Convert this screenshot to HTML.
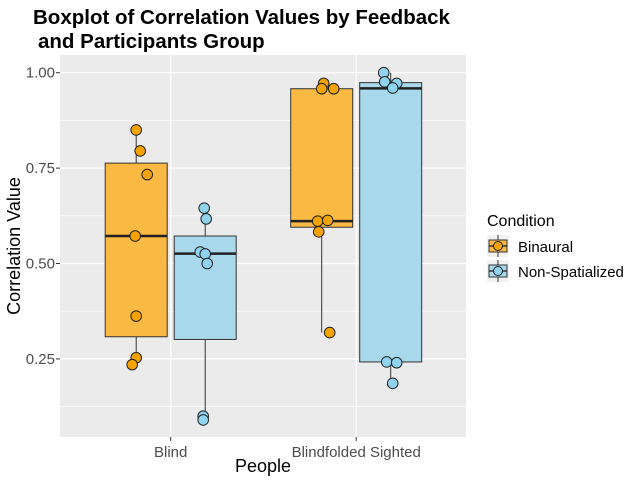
<!DOCTYPE html>
<html><head><meta charset="utf-8"><style>
body{margin:0;background:#fff}
svg{display:block;font-family:"Liberation Sans",Arial,sans-serif}
</style></head><body>
<svg id="chart" width="624" height="486">
<text x="33" y="24" font-size="20.5" font-weight="bold">Boxplot of Correlation Values by Feedback</text>
<text x="38" y="48" font-size="20.5" font-weight="bold">and Participants Group</text>
<rect x="60" y="55" width="406" height="382" fill="#ebebeb"/>
<g id="grid"></g>
<g id="boxes"></g>
<g id="pts"></g>
<g id="axes"></g>
<text x="0" y="0" transform="translate(20,246) rotate(-90)" font-size="18" text-anchor="middle" fill="#000">Correlation Value</text>
<text x="263" y="472" font-size="18" text-anchor="middle">People</text>
<g>
<text x="487" y="226" font-size="16">Condition</text>
<g>
<rect x="487" y="235" width="22" height="22" fill="#f2f2f2"/>
<line x1="498" y1="235" x2="498" y2="257" stroke="#333"/>
<rect x="489" y="240" width="18" height="12" fill="#f9b942" stroke="#333"/>
<line x1="489" y1="246" x2="507" y2="246" stroke="#333" stroke-width="1.5"/>
<circle cx="498" cy="246" r="4.5" fill="#f5a300" stroke="#222"/>
<text x="518" y="252" font-size="15">Binaural</text></g>
<g>
<rect x="487" y="260" width="22" height="22" fill="#f2f2f2"/>
<line x1="498" y1="260" x2="498" y2="282" stroke="#333"/>
<rect x="489" y="265" width="18" height="12" fill="#a7d8eb" stroke="#333"/>
<line x1="489" y1="271" x2="507" y2="271" stroke="#333" stroke-width="1.5"/>
<circle cx="498" cy="271" r="4.5" fill="#8fd3ee" stroke="#222"/>
<text x="518" y="277" font-size="15">Non-Spatialized</text></g>
</g>
</svg>
<script>
const categories=["Blind","Blindfolded Sighted"];
const conditions=["Binaural","Non-Spatialized"];
const yTicks=[0.25,0.5,0.75,1.0];
const yTickLabels=["0.25","0.50","0.75","1.00"];
const binauralStats=[[0.235,0.308,0.572,0.763,0.85],[0.319,0.595,0.611,0.958,0.972]];
const nonSpatialStats=[[0.09,0.301,0.526,0.572,0.645],[0.186,0.242,0.959,0.974,1.0]];
const binauralPoints=[[0.85,0.795,0.733,0.572,0.362,0.253,0.235],[0.972,0.958,0.958,0.611,0.613,0.583,0.319]];
const nonSpatialPoints=[[0.645,0.617,0.53,0.525,0.50,0.10,0.09],[1.0,0.976,0.972,0.96,0.242,0.24,0.186]];
const jitter=[[0,4,11,-1,0,0,-4],[2,0,12,-4,6,-3,8]];
const jitterNS=[[-1,1,-5,0,2,-2,-2],[-7,-6,6,2,-4,6,2]];

const NS="http://www.w3.org/2000/svg";
function y(v){return 72.7+(1-v)*381.6;}
function xc(i){return 170.7+i*185.5;}
const dodge=[-34.5,34.5], halfW=31;
function mk(tag,attrs,parent){const e=document.createElementNS(NS,tag);for(const k in attrs)e.setAttribute(k,attrs[k]);document.getElementById(parent).appendChild(e);return e;}
for(let i=0;i<yTicks.length;i++){
 const l=mk('line',{x1:60,x2:466,y1:y(yTicks[i]),y2:y(yTicks[i]),stroke:'#fff','stroke-width':1.2},'grid');
 
 
 if(i<yTicks.length-1){const m=mk('line',{x1:60,x2:466,y1:y(yTicks[i]+0.125),y2:y(yTicks[i]+0.125),stroke:'#fff','stroke-width':0.6},'grid');
 
 }
 const t=mk('text',{x:55,y:y(yTicks[i])+5,'text-anchor':'end','font-size':15,fill:'#4d4d4d'},'axes');t.textContent=yTickLabels[i];
 
 
 mk('line',{x1:56,x2:60,y1:y(yTicks[i]),y2:y(yTicks[i]),stroke:'#333'},'axes');
}
{const m=mk('line',{x1:60,x2:466,y1:y(0.125),y2:y(0.125),stroke:'#fff','stroke-width':0.6},'grid');
 
 }
categories.forEach((c,i)=>{
 const g=mk('line',{x1:xc(i),x2:xc(i),y1:55,y2:437,stroke:'#fff','stroke-width':1.2},'grid');
 
 
 mk('line',{x1:xc(i),x2:xc(i),y1:437,y2:441,stroke:'#333'},'axes');
 const t=mk('text',{x:xc(i),y:457,'text-anchor':'middle','font-size':15,fill:'#4d4d4d'},'axes');t.textContent=c;
 
 
});
const fills=['#f9b942','#a7d8eb'], ptFill=['#f5a300','#8fd3ee'];
[binauralStats,nonSpatialStats].forEach((stats,k)=>{
 stats.forEach((s,i)=>{
  const cx=xc(i)+dodge[k];
  const w=mk('line',{x1:cx,x2:cx,y1:y(s[0]),y2:y(s[4]),stroke:'#333','stroke-width':1},'boxes');
  
  
  const r=mk('rect',{x:cx-halfW,y:y(s[3]),width:halfW*2,height:y(s[1])-y(s[3]),fill:fills[k],stroke:'#333','stroke-width':1},'boxes');
  
  
  const m=mk('line',{x1:cx-halfW,x2:cx+halfW,y1:y(s[2]),y2:y(s[2]),stroke:'#222','stroke-width':2.5},'boxes');
  
  
 });
});
[binauralPoints,nonSpatialPoints].forEach((pts,k)=>{
 const jit=k===0?jitter:jitterNS;
 pts.forEach((arr,i)=>{
  arr.forEach((v,j)=>{
   const c=mk('circle',{cx:xc(i)+dodge[k]+jit[i][j],cy:y(v),r:5.3,fill:ptFill[k],stroke:'#222','stroke-width':1},'pts');
   
   
  });
 });
});
</script>
</body></html>
